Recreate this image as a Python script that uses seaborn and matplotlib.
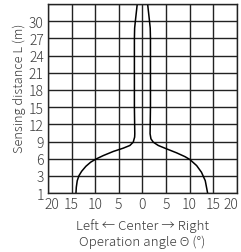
import numpy as np
import pandas as pd
import matplotlib
matplotlib.use("Agg")
import matplotlib.pyplot as plt
import matplotlib.transforms as mtransforms
import seaborn as sns

# Tick values on the distance axis (equally spaced, not linear)
dist_ticks = [1, 3, 6, 9, 12, 15, 18, 21, 24, 27, 30, 33]
angle_ticks = [-20, -15, -10, -5, 0, 5, 10, 15, 20]

# Left boundary of the detection area
left_dist = [1, 1.67, 2.44, 3.03, 3.8, 4.68, 5.39, 5.91, 6.54, 7.26, 7.84, 8.31, 8.89, 9.77, 10.35,
             12, 15, 18, 21, 24, 27, 28.8, 30, 31.5, 33]
left_angle = [-14.07, -14.0, -13.8, -13.44, -12.87, -11.96, -10.96, -9.9, -8.3, -6.18, -4.06, -2.65,
              -1.95, -1.65, -1.62,
              -1.65, -1.7, -1.7, -1.7, -1.7, -1.7, -1.65, -1.5, -1.3, -1.1]

# Right boundary
right_dist = [1, 2.44, 3.63, 4.8, 5.85, 6.36, 7.02, 7.72, 8.31, 8.89, 9.47, 10.35,
              12, 15, 18, 21, 24, 27, 28.8, 30, 31.5, 33]
right_angle = [13.8, 13.3, 12.5, 11.47, 10.05, 9.0, 7.24, 5.1, 3.35, 2.29, 1.8, 1.62,
               1.65, 1.7, 1.7, 1.7, 1.7, 1.7, 1.65, 1.5, 1.3, 1.1]

df = pd.concat([
    pd.DataFrame({"angle": left_angle, "dist": left_dist, "side": "left"}),
    pd.DataFrame({"angle": right_angle, "dist": right_dist, "side": "right"}),
], ignore_index=True)

sns.set_style("white")
plt.rcParams['font.family'] = ['Noto Sans CJK JP', 'DejaVu Sans']
plt.rcParams['font.weight'] = 300
plt.rcParams['text.color'] = '#3a3a3a'
txt_color = '#3a3a3a'

fig = plt.figure(figsize=(2.41, 2.53), dpi=100)
ax = fig.add_axes([0.199, 0.233, 0.784, 0.747])

# distance axis: each tick step gets the same height
pos = np.arange(len(dist_ticks))
fwd = lambda v: np.interp(v, dist_ticks, pos)
inv = lambda p: np.interp(p, pos, dist_ticks)
ax.set_yscale('function', functions=(fwd, inv))

sns.lineplot(data=df, x="angle", y="dist", units="side", estimator=None, sort=False,
             color="black", linewidth=1.1, ax=ax)

ax.set_xlim(-20, 20)
ax.set_ylim(1, 33)
ax.set_xticks(angle_ticks)
ax.set_xticklabels([str(abs(a)) for a in angle_ticks], fontweight=300, fontsize=10, color=txt_color)
ax.set_yticks(dist_ticks)
ax.set_yticklabels([str(d) for d in dist_ticks[:-1]] + [""], fontweight=300, fontsize=10, color=txt_color)
ax.grid(True, color="#222222", linewidth=1.0)
for s in ax.spines.values():
    s.set_color("#222222")
    s.set_linewidth(1.0)
ax.tick_params(length=0, pad=3)

# nudge the outermost angle labels inwards
xl = ax.get_xticklabels()
xl[0].set_transform(xl[0].get_transform() + mtransforms.ScaledTranslation(4 / 100, 0, fig.dpi_scale_trans))
xl[-1].set_transform(xl[-1].get_transform() + mtransforms.ScaledTranslation(-6 / 100, 0, fig.dpi_scale_trans))

ax.set_xlabel("Left ← Center → Right\nOperation angle Θ (°)", fontsize=9.6, fontweight=300,
              color=txt_color, labelpad=5, linespacing=1.25)
ax.set_ylabel("Sensing distance L (m)", fontsize=9.2, fontweight=300, color=txt_color)
ax.yaxis.set_label_coords(-0.115, 0.56)

fig.savefig("out.png", dpi=100)
